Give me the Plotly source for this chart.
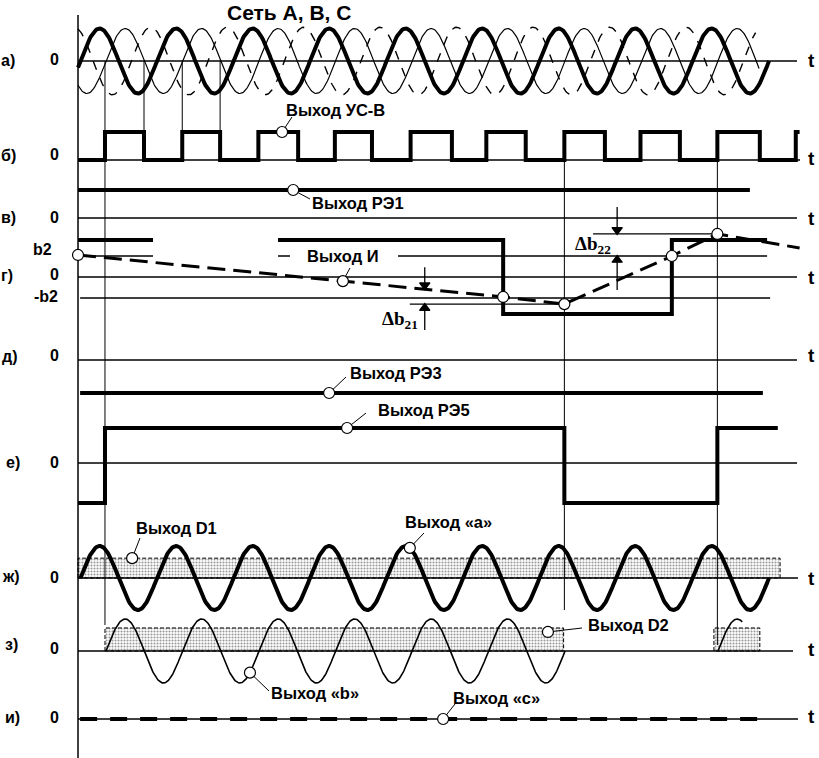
import numpy as np
import plotly.graph_objects as go

# ------------------------------------------------------------------ data
PERIOD_MS = 20.0
T_AXIS = -0.65            # time of the vertical axis

# row а) – network A, B, C (thick = B, thin = A, dashed = C)
NET_PHASE_DEG = [0.0, -120.0, 120.0]
NET_T_START = [T_AXIS, T_AXIS, T_AXIS]
NET_T_END = [180.0, 177.4, 176.5]
NET_AMPL = [1.0, 1.0, 1.04]

# row б) – output УС-В (square wave)
USV_RISE_T = [6.4, 26.6, 46.5, 66.5, 86.3, 106.1, 126.5, 146.4, 166.5, 187.0]
USV_FALL_T = [16.6, 36.5, 56.9, 76.2, 97.1, 116.4, 137.1, 156.7, 177.6]
USV_T_END = 188.0

# row в) – output РЭ1
RE1_LEVEL = 1.0
RE1_T = [T_AXIS, 175.0]

# row г) – output РЭ2 and integrator output И (in units of b2)
B2 = 1.0
RE2_T = [T_AXIS, 110.5, 110.5, 154.6, 154.6, 179.5]
RE2_V = [1.76, 1.76, -1.76, -1.76, 1.76, 1.76]
INT_T = [T_AXIS, 110.5, 126.5, 154.6, 166.5, 188.0]
INT_V = [1.05, -0.95, -1.29, 1.0, 2.05, 1.38]
INT_MARK_T = [T_AXIS, 110.5, 126.5, 154.6, 166.5]

# row д) – output РЭ3
RE3_LEVEL = -1.0
RE3_T = [-0.1, 178.4]

# row е) – output РЭ5
RE5_T = [T_AXIS, 6.4, 6.4, 126.5, 126.5, 166.5, 166.5, 182.3]
RE5_V = [-1.14, -1.14, 1.0, 1.0, -1.14, -1.14, 1.0, 1.0]

# row ж) – output «a» and threshold D1
A_OUT_T = [0.0, 180.0]
A_OUT_PHASE = 0.0
D1_LEVEL = 0.62
D1_T = [T_AXIS, 182.9]

# row з) – output «b» and threshold D2
B_OUT_SEGMENTS = [(6.67, 126.67), (166.67, 173.0)]
B_OUT_PHASE = -120.0
D2_LEVEL = 0.72
D2_SEGMENTS = [(6.4, 126.3), (165.6, 177.6)]

# row и) – output «c»
C_OUT_T = [-0.1, 177.6]
C_OUT_LEVEL = 0.0

# ------------------------------------------------------------------ layout constants
W, H = 819, 758
X0_PX, PX_PER_MS = 80.5, 3.825


def t_of(x_px):
    return (x_px - X0_PX) / PX_PER_MS


X_RANGE = [t_of(0), t_of(W)]
Y_RANGE = [H, 0]

ROW_Y = dict(a=61, b=160, v=218, g=277, d=360, e=463, zh=578, z=651, i=719)
SCALE = dict(a=32.5, b=28, v=28, g=21, d=33, e=35, zh=32, z=32, i=1)
ZERO_END_X = dict(a=797, b=800, v=797, g=797, d=797, e=797, zh=798, z=793, i=798)

THICK, THIN = 4.0, 1.3
FONT = "Liberation Sans, Arial, sans-serif"
SERIF = "Liberation Serif, Times New Roman, serif"

fig = go.Figure()


def ypx(row, v):
    return ROW_Y[row] - SCALE[row] * np.asarray(v, dtype=float)


def line(t, y, width=THIN, dash="solid"):
    fig.add_trace(go.Scatter(x=list(t), y=list(y), mode="lines",
                             line=dict(color="black", width=width, dash=dash),
                             hoverinfo="skip", showlegend=False))


def sine(row, t0, t1, phase_deg, ampl=1.0, width=THICK, dash="solid"):
    t = np.linspace(t0, t1, 700)
    v = ampl * np.sin(2 * np.pi * t / PERIOD_MS + np.deg2rad(phase_deg))
    line(t, ypx(row, v), width, dash)


def band(row, t0, t1, level):
    fig.add_trace(go.Scatter(
        x=[t0, t0, t1, t1, t0], y=list(ypx(row, [0, level, level, 0, 0])),
        mode="lines", fill="toself", fillcolor="white",
        fillpattern=dict(shape=".", fgcolor="#333", bgcolor="white",
                         size=3, solidity=0.4),
        line=dict(color="black", width=1, dash="4px,2px"),
        hoverinfo="skip", showlegend=False))


def marker(t, y, symbol="circle", size=11, fill="white"):
    fig.add_trace(go.Scatter(x=[t], y=[y], mode="markers",
                             marker=dict(size=size, color=fill, symbol=symbol,
                                         line=dict(color="black", width=1.2)),
                             hoverinfo="skip", showlegend=False))


def text(x_px, y_px, s, size=16, anchor="center", family=FONT):
    fig.add_annotation(x=t_of(x_px), y=y_px, xref="x", yref="y", text=s,
                       showarrow=False, xanchor=anchor, yanchor="middle",
                       font=dict(family=family, size=size, color="black",
                                 weight="bold"))


def leader(x1, y1, x2, y2):
    line([t_of(x1), t_of(x2)], [y1, y2], 1.0)


# ---- threshold bands (below everything)
band("zh", D1_T[0], D1_T[1], D1_LEVEL)
for s0, s1 in D2_SEGMENTS:
    band("z", s0, s1, D2_LEVEL)

# ---- zero lines
for r in ROW_Y:
    line([T_AXIS, t_of(ZERO_END_X[r])], [ROW_Y[r], ROW_Y[r]], THIN)
# b2 / -b2 levels
line([T_AXIS, RE2_T[-1]], ypx("g", [B2, B2]), THIN)
line([-0.1, 180.3], ypx("g", [-B2, -B2]), THIN)
# Δb21 / Δb22 reference levels
line([86.1, INT_T[2]], ypx("g", [INT_V[2], INT_V[2]]), THIN)
line([134.0, INT_T[4]], ypx("g", [INT_V[4], INT_V[4]]), THIN)

# ---- vertical guides
line([T_AXIS, T_AXIS], [15, 758], 1.5)
line([USV_RISE_T[0]] * 2, [ROW_Y["a"], 625], 1.0)
for tg in [USV_FALL_T[0], USV_RISE_T[1], USV_FALL_T[1]]:
    line([tg, tg], [ROW_Y["a"], ypx("b", 1)], 1.0)
line([INT_T[2]] * 2, [ROW_Y["b"], 610], 1.0)
line([INT_T[4]] * 2, [ROW_Y["b"], 645], 1.0)

# ---- row а
styles = [(THICK, "solid"), (1.2, "solid"), (1.4, "9px,9px")]
for ph, t0, t1, am, (w, d) in zip(NET_PHASE_DEG, NET_T_START, NET_T_END, NET_AMPL, styles):
    sine("a", t0, t1, ph, am, w, d)

# ---- row б
edges = sorted([(t, 1) for t in USV_RISE_T] + [(t, 0) for t in USV_FALL_T])
st, sv, lvl = [T_AXIS], [0], 0
for t, nv in edges:
    st += [t, t]
    sv += [lvl, nv]
    lvl = nv
st.append(USV_T_END)
sv.append(lvl)
line(st, ypx("b", sv), THICK)

# ---- row в
line(RE1_T, ypx("v", [RE1_LEVEL] * 2), THICK)

# ---- row г
line(RE2_T, ypx("g", RE2_V), THICK)
line(INT_T, ypx("g", INT_V), 3.0, "18px,8px")

# ---- row д / е
line(RE3_T, ypx("d", [RE3_LEVEL] * 2), THICK)
line(RE5_T, ypx("e", RE5_V), THICK)

# ---- row ж / з / и
sine("zh", A_OUT_T[0], A_OUT_T[1], A_OUT_PHASE, 1.0, THICK)
for s0, s1 in B_OUT_SEGMENTS:
    sine("z", s0, s1, B_OUT_PHASE, 1.0, 1.6)
line(C_OUT_T, ypx("i", [C_OUT_LEVEL] * 2), 4.0, "17px,13px")

# ---- white label backgrounds cutting РЭ2 and b2 lines
for x0, x1, y0, y1 in [(153, 278, 229, 259), (290, 398, 247, 265)]:
    fig.add_shape(type="rect", xref="x", yref="y", x0=t_of(x0), x1=t_of(x1),
                  y0=y0, y1=y1, fillcolor="white", line=dict(width=0),
                  layer="above")

# ---- circles on И
for tm in INT_MARK_T:
    marker(tm, float(ypx("g", np.interp(tm, INT_T, INT_V))))


def sq(t, T, V):
    idx = max(i for i in range(len(T)) if T[i] <= t)
    return V[idx]


# (anchor time, anchor y, leader end, label centre, text)
labels = [
    (52.7, float(ypx("b", 1)), (292, 117), (335, 110), "Выход УС-В"),
    (55.6, float(ypx("v", RE1_LEVEL)), (310, 199), (358, 203), "Выход РЭ1"),
    (68.6, float(ypx("g", np.interp(68.6, INT_T, INT_V))), (350, 268), (343, 256), "Выход И"),
    (65.0, float(ypx("d", RE3_LEVEL)), (346, 377), (396, 373), "Выход РЭ3"),
    (69.7, float(ypx("e", sq(69.7, RE5_T, RE5_V))), (366, 413), (424, 410), "Выход РЭ5"),
    (13.5, float(ypx("zh", D1_LEVEL)), (140, 538), (176, 528), "Выход D1"),
    (86.1, float(ypx("zh", np.sin(2 * np.pi * 86.1 / PERIOD_MS))), (424, 533), (448, 522), "Выход «а»"),
    (122.2, float(ypx("z", D2_LEVEL)) + 4, (582, 628), (628, 625), "Выход D2"),
    (44.3, float(ypx("z", np.sin(2 * np.pi * 44.3 / PERIOD_MS + np.deg2rad(B_OUT_PHASE)))), (269, 691), (315, 693), "Выход «b»"),
    (94.8, float(ypx("i", C_OUT_LEVEL)), (455, 704), (496, 698), "Выход «с»"),
]
for ta, ya, (lx, ly), (tx, ty), s in labels:
    xa = X0_PX + ta * PX_PER_MS
    leader(xa, ya, lx, ly)
    marker(ta, ya)
    text(tx, ty, s, 16.5)

# ---- Δb arrows (shaft + triangular head)
for t_ar, y_head, dy in [(90.0, float(ypx("g", np.interp(90.0, INT_T, INT_V))), -22),
                         (90.0, float(ypx("g", INT_V[2])), 26),
                         (140.3, float(ypx("g", INT_V[4])), -27),
                         (140.3, float(ypx("g", B2)), 34)]:
    line([t_ar, t_ar], [y_head + dy, y_head], 1.3)
    sym = "triangle-down" if dy < 0 else "triangle-up"
    marker(t_ar, y_head + 4 * np.sign(dy), symbol=sym, size=9, fill="black")
text(400, 320, "Δb<sub>21</sub>", 19, family=SERIF)
text(593, 245, "Δb<sub>22</sub>", 19, family=SERIF)

# ---- title, row letters, zero / level labels, t labels
text(289, 12, "Сеть A, B, C", 21)
ROW_LETTERS = [("а)", 17, 60), ("б)", 18, 155), ("в)", 18, 217), ("г)", 15, 275),
               ("д)", 19, 356), ("е)", 22, 462), ("ж)", 22, 576), ("з)", 20, 644),
               ("и)", 22, 717)]
for s, xr, yc in ROW_LETTERS:
    text(xr, yc, s, 16, anchor="right")
for yc in [59, 154, 217, 274, 355, 462, 577, 648, 717]:
    text(54, yc, "0", 16)
text(42, 249, "b2", 16)
text(46, 296, "-b2", 16)
for yc in [60, 158, 218, 277, 355, 578, 649, 716]:
    text(811, yc, "t", 19)

fig.update_layout(
    width=W, height=H, margin=dict(l=0, r=0, t=0, b=0),
    paper_bgcolor="white", plot_bgcolor="white", showlegend=False,
    xaxis=dict(range=X_RANGE, visible=False, fixedrange=True),
    yaxis=dict(range=Y_RANGE, visible=False, fixedrange=True),
)
fig.write_html(
    "out.html",
    config={"displayModeBar": False, "staticPlot": True},
    post_script="document.body.style.margin='0px';document.body.style.overflow='hidden';",
)
